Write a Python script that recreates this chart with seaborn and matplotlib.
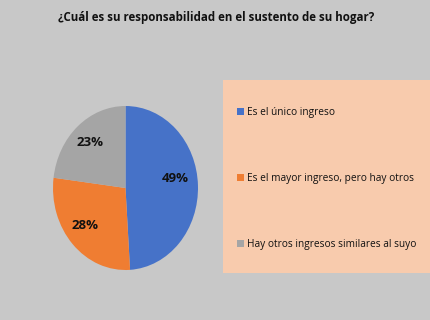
import seaborn as sns
import matplotlib.pyplot as plt

categories = ["Es el único ingreso",
              "Es el mayor ingreso, pero hay otros",
              "Hay otros ingresos similares al suyo"]
shares = [49, 28, 23]
colors = ["#4672c8", "#ef7d32", "#a5a5a5"]

sns.set_theme(style="white")
plt.rcParams['font.family'] = ['Open Sans', 'DejaVu Sans']

W, H = 431, 320
fig = plt.figure(figsize=(W / 100, H / 100), dpi=100)
fig.patch.set_facecolor("#c8c8c8")

fig.text(216 / W, 1 - 17 / H, "¿Cuál es su responsabilidad en el sustento de su hogar?",
         ha="center", va="center", fontsize=8.3, fontweight="bold", color="#111111")

# pie axes (elliptical, as in the original)
ax = fig.add_axes([53 / W, 1 - 270 / H, 145 / W, 164 / H])
wedges, texts = ax.pie(shares, colors=colors, startangle=90, counterclock=False,
                       radius=1.0, wedgeprops={"linewidth": 0})
ax.set_aspect("auto")
ax.set_xlim(-1, 1)
ax.set_ylim(-1, 1)
ax.axis("off")
label_pos = [(0.68, 0.12), (-0.56, -0.46), (-0.49, 0.55)]
for s, (x, y) in zip(shares, label_pos):
    ax.text(x, y, f"{s}%", ha="center", va="center", fontsize=9.5,
            fontweight="bold", color="#111111")

# legend panel
lax = fig.add_axes([223 / W, 1 - 273 / H, 207 / W, 193 / H])
lax.set_facecolor("#f8cbad")
lax.set_xticks([])
lax.set_yticks([])
for sp in lax.spines.values():
    sp.set_visible(False)
leg = lax.legend(wedges, categories, loc="center left", bbox_to_anchor=(0.025, 0.49),
                 frameon=False, fontsize=7.3, labelspacing=5.4, handlelength=0.7,
                 handleheight=0.7, handletextpad=0.25, labelcolor="#111111")

fig.savefig("out.png", dpi=100, facecolor=fig.get_facecolor())
